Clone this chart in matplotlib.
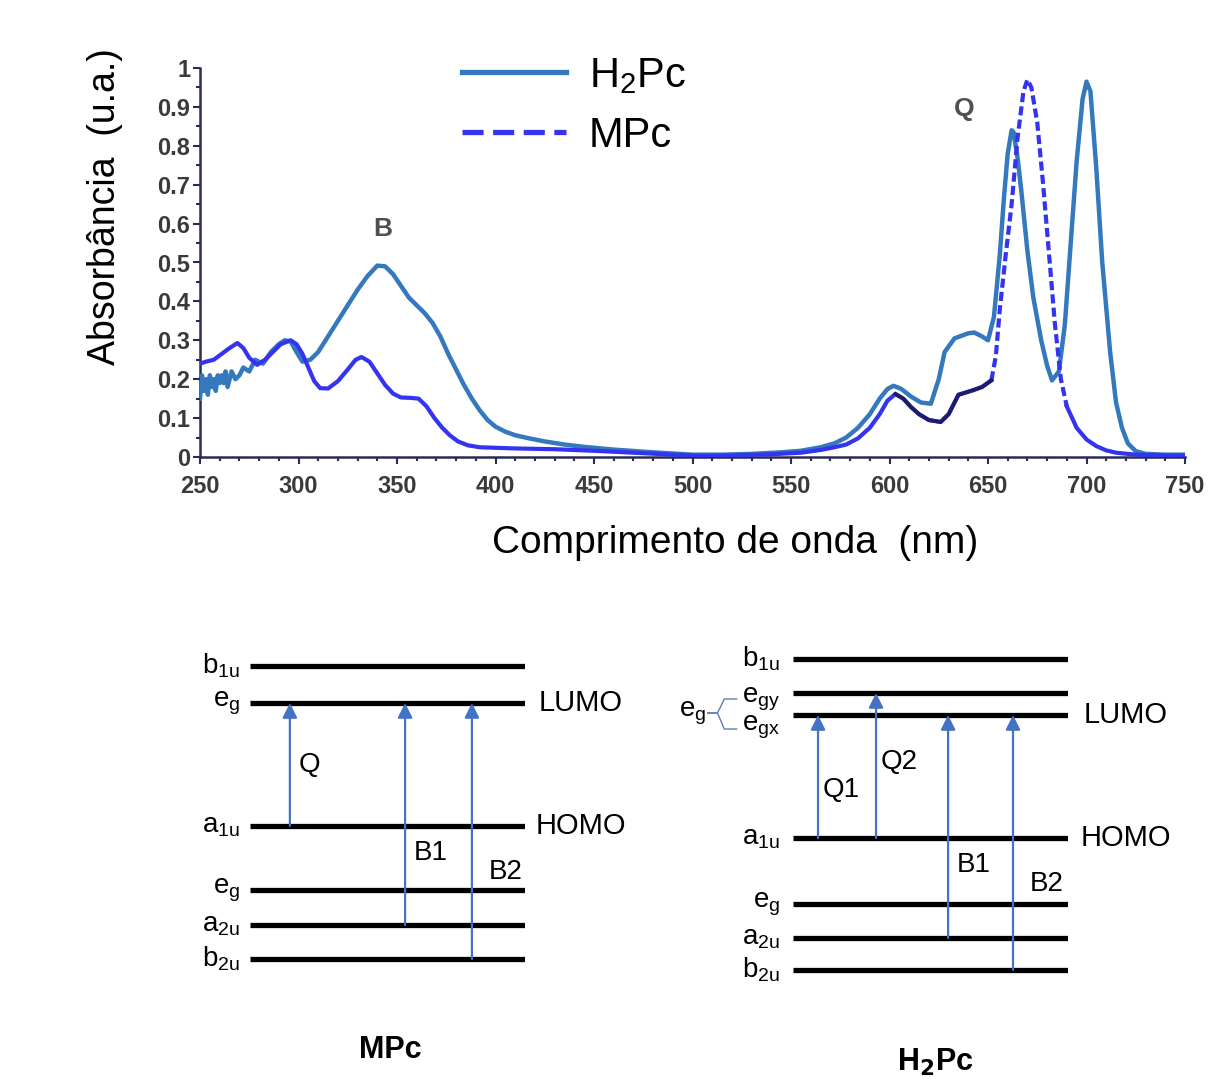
import numpy as np
import matplotlib.pyplot as plt
from matplotlib.lines import Line2D
from matplotlib.ticker import MultipleLocator, FuncFormatter

plt.rcParams['font.family'] = ['Liberation Sans', 'DejaVu Sans']
plt.rcParams['mathtext.fontset'] = 'custom'
plt.rcParams['mathtext.rm'] = 'Liberation Sans'
plt.rcParams['mathtext.it'] = 'Liberation Sans'

# --- espectro ---
h2pc_wl = [250, 251, 252, 253, 254, 255, 256, 257, 258, 259, 260, 261, 262, 263, 264,
           266, 268, 270, 272, 275, 278, 282, 286, 290, 293, 296, 299, 302, 306, 310,
           315, 320, 325, 330, 335, 340, 344, 348, 352, 356, 360, 364, 368, 372, 376,
           380, 384, 388, 392, 396, 400, 405, 410, 417, 425, 435, 445, 460, 477, 490,
           500, 515, 530, 545, 555, 565, 572, 578, 584, 590, 595, 599, 602, 606, 611,
           616, 621, 625, 628, 633, 640, 643, 647, 650, 653, 656, 658, 660, 662, 663,
           665, 667, 670, 673, 677, 680, 682.5, 686, 689, 692, 695, 698, 700, 702, 705,
           708, 712, 715, 718, 721, 725, 730, 740, 750]
h2pc_abs = [0.15, 0.21, 0.17, 0.20, 0.16, 0.21, 0.18, 0.20, 0.17, 0.21, 0.19, 0.21, 0.19, 0.22, 0.18,
            0.22, 0.20, 0.21, 0.23, 0.22, 0.25, 0.24, 0.27, 0.29, 0.30, 0.297, 0.27, 0.245, 0.25, 0.27,
            0.31, 0.35, 0.39, 0.43, 0.465, 0.492, 0.49, 0.47, 0.44, 0.41, 0.39, 0.37, 0.345, 0.31, 0.265,
            0.225, 0.185, 0.15, 0.12, 0.095, 0.078, 0.065, 0.056, 0.048, 0.04, 0.032, 0.026, 0.019, 0.013, 0.009,
            0.006, 0.006, 0.008, 0.012, 0.016, 0.025, 0.035, 0.05, 0.075, 0.11, 0.15, 0.175, 0.183, 0.175, 0.155,
            0.14, 0.137, 0.2, 0.27, 0.305, 0.318, 0.32, 0.31, 0.30, 0.36, 0.52, 0.66, 0.78, 0.84, 0.835,
            0.77, 0.68, 0.53, 0.41, 0.30, 0.235, 0.197, 0.22, 0.34, 0.55, 0.76, 0.92, 0.965, 0.94, 0.74,
            0.50, 0.27, 0.14, 0.075, 0.035, 0.015, 0.008, 0.006, 0.006]

mpc_wl = [250, 253, 257, 261, 265, 269, 272, 275, 279, 283, 287, 291, 296, 299, 302,
          305, 308, 311, 315, 320, 325, 329, 332, 336, 340, 344, 348, 352, 357, 361,
          365, 369, 373, 377, 381, 386, 392, 410, 430, 450, 470, 490, 505, 520, 540,
          555, 565, 572, 578, 584, 590, 595, 599, 603, 607, 611, 615, 620, 626, 630,
          635, 642, 647, 651.7, 654, 656, 659, 662, 665, 668, 670, 672, 675, 678, 681,
          684, 687, 690, 695, 700, 705, 710, 715, 725, 740, 750]
mpc_abs = [0.24, 0.245, 0.25, 0.265, 0.28, 0.293, 0.28, 0.255, 0.237, 0.25, 0.27, 0.29, 0.30, 0.29, 0.265,
           0.23, 0.195, 0.177, 0.176, 0.195, 0.225, 0.25, 0.257, 0.245, 0.215, 0.185, 0.163, 0.153, 0.152, 0.15,
           0.13, 0.10, 0.075, 0.055, 0.04, 0.03, 0.025, 0.022, 0.02, 0.016, 0.011, 0.006, 0.003, 0.004, 0.007,
           0.011, 0.018, 0.025, 0.032, 0.048, 0.075, 0.11, 0.145, 0.162, 0.15, 0.128, 0.11, 0.095, 0.09, 0.11,
           0.16, 0.171, 0.18, 0.197, 0.26, 0.38, 0.52, 0.65, 0.82, 0.94, 0.97, 0.95, 0.86, 0.70, 0.52,
           0.34, 0.2, 0.13, 0.075, 0.045, 0.028, 0.017, 0.011, 0.006, 0.004, 0.004]

# --- diagramas de níveis ---
mpc_levels = ['b_{1u}', 'e_g', 'a_{1u}', 'e_g', 'a_{2u}', 'b_{2u}']
mpc_energy = [3.34, 2.97, 1.74, 1.10, 0.75, 0.41]
mpc_trans = ['Q', 'B1', 'B2']
mpc_trans_from = [1.74, 0.75, 0.41]
mpc_trans_to = [2.97, 2.97, 2.97]
mpc_trans_x = [0.145, 0.564, 0.807]

h2pc_levels = ['b_{1u}', 'e_{gy}', 'e_{gx}', 'a_{1u}', 'e_g', 'a_{2u}', 'b_{2u}']
h2pc_energy = [3.41, 3.07, 2.85, 1.62, 0.96, 0.62, 0.30]
h2pc_trans = ['Q1', 'Q2', 'B1', 'B2']
h2pc_trans_from = [1.62, 1.62, 0.62, 0.30]
h2pc_trans_to = [2.85, 3.07, 2.85, 2.85]
h2pc_trans_x = [0.091, 0.302, 0.564, 0.80]

c_h2 = '#3478bd'
c_m = '#3434f0'
c_dark = '#1c1c6a'
c_arrow = '#4472c4'
c_axis = '#2b2b55'

fig = plt.figure(figsize=(12.08, 10.79), dpi=100)

ax = fig.add_axes([200 / 1208, 1 - 457 / 1079, 985 / 1208, 389 / 1079])
h2 = np.array(h2pc_abs)
mwl = np.array(mpc_wl)
mab = np.array(mpc_abs)
lw = 3.2
ax.plot(h2pc_wl, h2, color=c_h2, lw=lw, solid_joinstyle='round', zorder=3)
sel = mwl <= 651.7
ax.plot(mwl[sel], mab[sel], color=c_m, lw=lw - 0.2, solid_joinstyle='round', zorder=4)
sel = (mwl >= 603) & (mwl <= 651.7)
ax.plot(mwl[sel], mab[sel], color=c_dark, lw=lw - 0.4, solid_joinstyle='round', zorder=5)
sel = (mwl >= 651.7) & (mwl <= 690)
ax.plot(mwl[sel], mab[sel], color=c_m, lw=lw - 0.2, dashes=(2.2, 1.0), zorder=4)
sel = mwl >= 690
ax.plot(mwl[sel], mab[sel], color=c_m, lw=lw - 0.2, solid_joinstyle='round', zorder=4)

ax.set_xlim(250, 750)
ax.set_ylim(0, 1)
for s in ['top', 'right']:
    ax.spines[s].set_visible(False)
for s in ['left', 'bottom']:
    ax.spines[s].set_color(c_axis)
    ax.spines[s].set_linewidth(1.8)
ax.xaxis.set_major_locator(MultipleLocator(50))
ax.xaxis.set_minor_locator(MultipleLocator(10))
ax.yaxis.set_major_locator(MultipleLocator(0.1))
ax.yaxis.set_minor_locator(MultipleLocator(0.05))
ax.yaxis.set_major_formatter(FuncFormatter(lambda v, p: '%g' % round(v, 2)))
ax.tick_params(which='both', direction='out', color=c_axis, width=1.5)
ax.tick_params(which='major', length=5)
ax.tick_params(which='minor', length=3)
ax.tick_params(axis='x', pad=8)
ax.tick_params(axis='y', pad=2)
for lab in ax.get_xticklabels() + ax.get_yticklabels():
    lab.set_fontsize(17)
    lab.set_fontweight('bold')
    lab.set_color('#3a3a3a')

ax.set_xlabel('Comprimento de onda  (nm)', fontsize=28)
ax.xaxis.set_label_coords(0.543, -0.175)
ax.set_ylabel('Absorbância  (u.a.)', fontsize=27)
ax.yaxis.set_label_coords(-0.078, 0.645)

ax.text(343, 0.585, 'B', fontsize=19, fontweight='bold', color='#505050', ha='center', va='center')
ax.text(638, 0.895, 'Q', fontsize=19, fontweight='bold', color='#505050', ha='center', va='center')

handles = [Line2D([], [], color=c_h2, lw=3.8),
           Line2D([], [], color=c_m, lw=3.8, dashes=(4, 1.8))]
ax.legend(handles, [r'H$_2$Pc', 'MPc'], fontsize=30, frameon=False,
          loc='upper left', bbox_to_anchor=(462 / 1208, 1 - 56 / 1079),
          bbox_transform=fig.transFigure, borderpad=0, borderaxespad=0,
          handlelength=2.5, handletextpad=0.55, labelspacing=0.48)


def draw_levels(rect, names, energy, name_dy, trans, e_from, e_to, tx, lbl_x, trans_dx, trans_dy):
    d = fig.add_axes(rect)
    d.set_xlim(0, 1)
    d.set_ylim(0, 3.6)
    d.axis('off')
    for n, e, dy in zip(names, energy, name_dy):
        d.plot([0, 1], [e, e], color='black', lw=3.8, solid_capstyle='butt')
        d.text(lbl_x, e + dy, r'$\mathregular{' + n + '}$', fontsize=20, ha='right', va='center')
    for t, a, b, x, dx, dy in zip(trans, e_from, e_to, tx, trans_dx, trans_dy):
        d.annotate('', xy=(x, b), xytext=(x, a),
                   arrowprops=dict(arrowstyle='-|>', color=c_arrow, lw=1.6,
                                   mutation_scale=22, shrinkA=0, shrinkB=0))
        d.text(x + dx, dy, t, fontsize=20, ha='left', va='center')
    return d


# MPc
d1 = draw_levels([250 / 1208, 79 / 1079, 275 / 1208, 360 / 1079], mpc_levels, mpc_energy,
                 [0] * 6, mpc_trans, mpc_trans_from, mpc_trans_to, mpc_trans_x, -0.036,
                 [0.03, 0.03, 0.06], [2.35, 1.47, 1.28])
d1.text(1.05, mpc_energy[1], 'LUMO', fontsize=21, ha='left', va='center')
d1.text(1.04, mpc_energy[2], 'HOMO', fontsize=21, ha='left', va='center')
fig.text(390 / 1208, 1 - 1050 / 1079, 'MPc', fontsize=22, fontweight='bold', ha='center', va='center')

# H2Pc
d2 = draw_levels([793 / 1208, 79 / 1079, 275 / 1208, 360 / 1079], h2pc_levels, h2pc_energy,
                 [0, -0.06, -0.12, 0, 0, 0, 0],
                 h2pc_trans, h2pc_trans_from, h2pc_trans_to, h2pc_trans_x, -0.047,
                 [0.015, 0.015, 0.03, 0.06], [2.10, 2.38, 1.35, 1.16])
d2.text(1.055, h2pc_energy[2], 'LUMO', fontsize=21, ha='left', va='center')
d2.text(1.045, h2pc_energy[3], 'HOMO', fontsize=21, ha='left', va='center')
mid = (h2pc_energy[1] + h2pc_energy[2]) / 2 - 0.09
d2.text(-0.315, mid, r'$\mathregular{e_g}$', fontsize=20, ha='right', va='center')
top, bot = mid + 0.14, mid - 0.16
for yy in (top, bot):
    d2.plot([-0.31, -0.275, -0.262, -0.25, -0.205], [mid, mid, (mid + yy) / 2, yy, yy],
            color='#5a7fb5', lw=1.0, clip_on=False)
fig.text(935 / 1208, 1 - 1062 / 1079, r'H$_\mathbf{2}$Pc', fontsize=22, fontweight='bold',
         ha='center', va='center')

fig.savefig('out.png', dpi=100, facecolor='white')
